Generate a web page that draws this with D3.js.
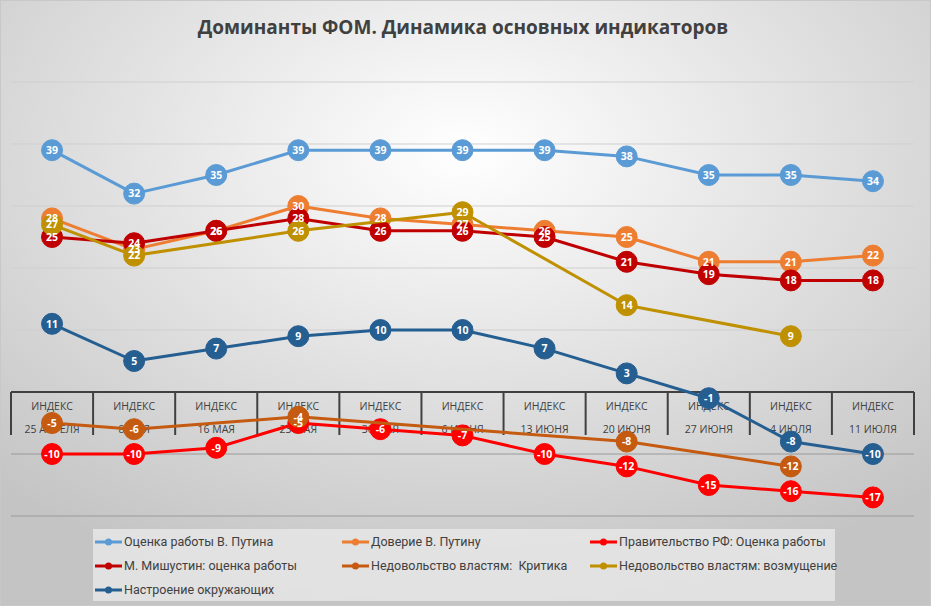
<!DOCTYPE html>
<html><head><meta charset="utf-8">
<script src="https://cdn.jsdelivr.net/npm/d3@7"></script>
<style>body{margin:0;padding:0;overflow:hidden}svg{display:block}text{white-space:pre}</style>
</head><body>
<script>
const categories = ["25 АПРЕЛЯ","8 МАЯ","16 МАЯ","23 МАЯ","30 МАЯ","6 ИЮНЯ","13 ИЮНЯ","20 ИЮНЯ","27 ИЮНЯ","4 ИЮЛЯ","11 ИЮЛЯ"];
const categoryPrefix = "ИНДЕКС";
const seriesNames = ["Оценка работы В. Путина","Доверие В. Путину","Правительство РФ: Оценка работы","М. Мишустин: оценка работы","Недовольство властям:  Критика","Недовольство властям: возмущение","Настроение окружающих"];
const putinWork   = [39,32,35,39,39,39,39,38,35,35,34];
const putinTrust  = [28,23,26,30,28,27,26,25,21,21,22];
const government  = [-10,-10,-9,-5,-6,-7,-10,-12,-15,-16,-17];
const mishustin   = [25,24,26,28,26,26,25,21,19,18,18];
const criticism   = [-5,-6,null,-4,null,null,null,-8,null,-12,null];
const outrage     = [27,22,null,26,null,29,null,14,null,9,null];
const mood        = [11,5,7,9,10,10,7,3,-1,-8,-10];
const yTicks = [-20,-10,0,10,20,30,40,50];
const title = "Доминанты ФОМ. Динамика основных индикаторов";

const seriesValues = [putinWork,putinTrust,government,mishustin,criticism,outrage,mood];
const colors = ["#5B9BD5","#ED7D31","#FF0000","#C00000","#C55A11","#BF9000","#255E91"];

const W = 931, H = 606;
const svg = d3.select("body").append("svg").attr("width",W).attr("height",H);
const defs = svg.append("defs");
const grad = defs.append("radialGradient").attr("id","bg").attr("cx","50%").attr("cy","25%").attr("r","75%");
grad.append("stop").attr("offset","0%").attr("stop-color","#ffffff");
grad.append("stop").attr("offset","100%").attr("stop-color","#c4c4c4");
svg.append("rect").attr("width",W).attr("height",H).attr("fill","url(#bg)");
svg.append("rect").attr("x",0.5).attr("y",0.5).attr("width",W-1).attr("height",H-1).attr("fill","none").attr("stroke","#c8c8c8");

svg.append("text").attr("x",463).attr("y",34).attr("text-anchor","middle")
  .attr("font-family","Open Sans").attr("font-weight","bold").attr("font-size",19).attr("fill","#404040").text(title);

const x = d3.scaleBand().domain(categories).range([11,914]);
const y = d3.scaleLinear().domain([-20,50]).range([516,82]);

// gridlines
svg.append("g").selectAll("line").data(yTicks.filter(t=>t!==0)).join("line")
  .attr("x1",11).attr("x2",914).attr("y1",d=>y(d)).attr("y2",d=>y(d))
  .attr("stroke",d=>d<0?"#9a9a9a":"#cfcfcf").attr("stroke-width",1);

// category axis
const axis = svg.append("g").attr("transform",`translate(0,${y(0)})`)
  .call(d3.axisBottom(x).tickSize(0).tickPadding(0));
axis.select(".domain").remove();
axis.selectAll(".tick text").remove();
axis.selectAll(".tick").each(function(d){
  const t = d3.select(this).append("text").attr("fill","#404040")
    .attr("font-family","Open Sans").attr("font-size",10.5).attr("text-anchor","middle");
  t.append("tspan").attr("x",0).attr("y",18).text(categoryPrefix);
  t.append("tspan").attr("x",0).attr("y",41).text(d);
});
const bounds = categories.map(c=>x(c)).concat([x(categories[categories.length-1])+x.bandwidth()]);
axis.selectAll("line.div").data(bounds).join("line").attr("class","div")
  .attr("x1",d=>d).attr("x2",d=>d).attr("y1",0).attr("y2",43)
  .attr("stroke","#404040").attr("stroke-width",2);
axis.append("line").attr("x1",11).attr("x2",914).attr("y1",0).attr("y2",0)
  .attr("stroke","#404040").attr("stroke-width",2);

const cx = i => x(categories[i]) + x.bandwidth()/2;
const line = d3.line().defined(d=>d.v!==null).x(d=>cx(d.i)).y(d=>y(d.v));

seriesValues.forEach((vals,s)=>{
  const pts = vals.map((v,i)=>({v,i})).filter(d=>d.v!==null);
  const g = svg.append("g");
  g.append("path").datum(pts).attr("d",line).attr("fill","none")
    .attr("stroke",colors[s]).attr("stroke-width",3).attr("stroke-linejoin","round");
  g.selectAll("circle").data(pts).join("circle")
    .attr("cx",d=>cx(d.i)).attr("cy",d=>y(d.v)).attr("r",10.5)
    .attr("fill",colors[s]).attr("stroke",colors[s]).attr("stroke-width",1);
});
seriesValues.forEach((vals,s)=>{
  const pts = vals.map((v,i)=>({v,i})).filter(d=>d.v!==null);
  svg.append("g").selectAll("text").data(pts).join("text")
    .attr("x",d=>cx(d.i)).attr("y",d=>y(d.v)).attr("dy","0.36em").attr("text-anchor","middle")
    .attr("font-family","Open Sans").attr("font-weight","bold").attr("font-size",10.5)
    .attr("fill","#ffffff").text(d=>d.v);
});

// legend
const lg = svg.append("g");
lg.append("rect").attr("x",93).attr("y",529).attr("width",742).attr("height",72).attr("fill","#e6e6e6").attr("opacity",0.85);
const colX = [95,342,590], rowY = [542,566,590];
seriesNames.forEach((n,s)=>{
  const lx = colX[s%3], ly = rowY[Math.floor(s/3)];
  const it = lg.append("g").attr("transform",`translate(${lx},${ly})`);
  it.append("line").attr("x1",0).attr("x2",27).attr("y1",0).attr("y2",0).attr("stroke",colors[s]).attr("stroke-width",3);
  it.append("circle").attr("cx",13.5).attr("cy",0).attr("r",3.5).attr("fill",colors[s]);
  it.append("text").attr("x",29).attr("y",0).attr("dy","0.35em").attr("font-family","Roboto")
    .attr("font-size",12.5).attr("fill","#404040").text(n);
});
</script>
</body></html>
